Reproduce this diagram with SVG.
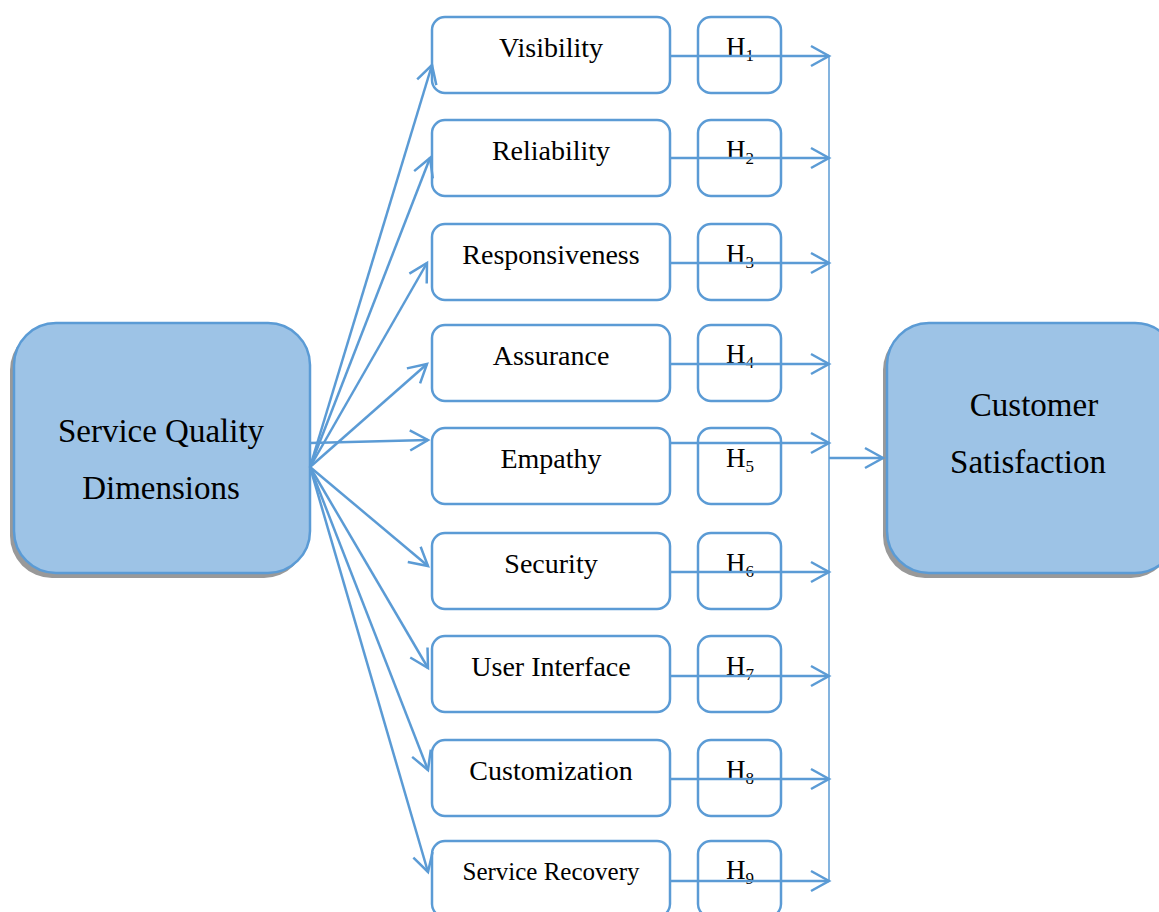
<svg xmlns="http://www.w3.org/2000/svg" width="1159" height="912" viewBox="0 0 1159 912">
<style>
.big{fill:#9dc3e6;stroke:#5b9bd5;stroke-width:2.5}
.sh{fill:#999999}
.box{fill:#ffffff;stroke:#5b9bd5;stroke-width:2.5}
text{font-family:"Liberation Serif","Times New Roman",Times,Tinos,"Nimbus Roman","Noto Serif","DejaVu Serif",FreeSerif,serif;fill:#000}
.t{text-anchor:middle}
.lab{font-size:28px}
.bt{font-size:33px}
.h{font-size:27px}
.sub{font-size:17px}
.c{fill:none;stroke:#5b9bd5;stroke-width:2.5;marker-end:url(#a)}
</style>
<defs>
<marker id="a" markerUnits="userSpaceOnUse" markerWidth="26" markerHeight="26" refX="20" refY="12" orient="auto">
<path d="M2,2 L20,12 L2,22" fill="none" stroke="#5b9bd5" stroke-width="2.5"/>
</marker>
</defs>
<rect x="0" y="0" width="1159" height="912" fill="#ffffff"/>

<g id="service-quality">
<rect class="sh" x="10" y="328" width="296" height="250" rx="42"/>
<rect class="big" x="14" y="323" width="296" height="250" rx="42"/>
<text class="t bt" x="161" y="442">Service Quality</text>
<text class="t bt" x="161" y="499">Dimensions</text>
</g>

<g id="customer-satisfaction">
<rect class="sh" x="883" y="328" width="290" height="250" rx="42"/>
<rect class="big" x="887" y="323" width="290" height="250" rx="42"/>
<text class="t bt" x="1034" y="416">Customer</text>
<text class="t bt" x="1028" y="473">Satisfaction</text>
</g>

<g id="visibility"><rect class="box" x="432" y="17" width="238" height="76" rx="13"/><text class="t lab" x="551" y="57">Visibility</text></g>
<g id="reliability"><rect class="box" x="432" y="120" width="238" height="76" rx="13"/><text class="t lab" x="551" y="160">Reliability</text></g>
<g id="responsiveness"><rect class="box" x="432" y="224" width="238" height="76" rx="13"/><text class="t lab" x="551" y="264">Responsiveness</text></g>
<g id="assurance"><rect class="box" x="432" y="325" width="238" height="76" rx="13"/><text class="t lab" x="551" y="365">Assurance</text></g>
<g id="empathy"><rect class="box" x="432" y="428" width="238" height="76" rx="13"/><text class="t lab" x="551" y="468">Empathy</text></g>
<g id="security"><rect class="box" x="432" y="533" width="238" height="76" rx="13"/><text class="t lab" x="551" y="573">Security</text></g>
<g id="user-interface"><rect class="box" x="432" y="636" width="238" height="76" rx="13"/><text class="t lab" x="551" y="676">User Interface</text></g>
<g id="customization"><rect class="box" x="432" y="740" width="238" height="76" rx="13"/><text class="t lab" x="551" y="780">Customization</text></g>
<g id="service-recovery"><rect class="box" x="432" y="841" width="238" height="76" rx="13"/><text class="t" style="font-size:25px" x="551" y="880">Service Recovery</text></g>

<g id="h1"><rect class="box" x="698" y="17" width="83" height="76" rx="13"/><text class="h" x="726" y="56">H<tspan class="sub" dy="5">1</tspan></text></g>
<g id="h2"><rect class="box" x="698" y="120" width="83" height="76" rx="13"/><text class="h" x="726" y="159">H<tspan class="sub" dy="5">2</tspan></text></g>
<g id="h3"><rect class="box" x="698" y="224" width="83" height="76" rx="13"/><text class="h" x="726" y="263">H<tspan class="sub" dy="5">3</tspan></text></g>
<g id="h4"><rect class="box" x="698" y="325" width="83" height="76" rx="13"/><text class="h" x="726" y="363">H<tspan class="sub" dy="5">4</tspan></text></g>
<g id="h5"><rect class="box" x="698" y="428" width="83" height="76" rx="13"/><text class="h" x="726" y="467">H<tspan class="sub" dy="5">5</tspan></text></g>
<g id="h6"><rect class="box" x="698" y="533" width="83" height="76" rx="13"/><text class="h" x="726" y="572">H<tspan class="sub" dy="5">6</tspan></text></g>
<g id="h7"><rect class="box" x="698" y="636" width="83" height="76" rx="13"/><text class="h" x="726" y="675">H<tspan class="sub" dy="5">7</tspan></text></g>
<g id="h8"><rect class="box" x="698" y="740" width="83" height="76" rx="13"/><text class="h" x="726" y="779">H<tspan class="sub" dy="5">8</tspan></text></g>
<g id="h9"><rect class="box" x="698" y="841" width="83" height="76" rx="13"/><text class="h" x="726" y="879">H<tspan class="sub" dy="5">9</tspan></text></g>

<g id="connectors">
<line class="c" x1="310" y1="467" x2="432" y2="65"/>
<line class="c" x1="310" y1="467" x2="430" y2="158"/>
<line class="c" x1="310" y1="467" x2="427" y2="263"/>
<line class="c" x1="310" y1="467" x2="427" y2="364"/>
<line class="c" x1="310" y1="443" x2="428" y2="440"/>
<line class="c" x1="310" y1="467" x2="428" y2="566"/>
<line class="c" x1="310" y1="467" x2="428" y2="668"/>
<line class="c" x1="310" y1="467" x2="428" y2="770"/>
<line class="c" x1="310" y1="467" x2="428" y2="872"/>
<line class="c" x1="670" y1="56" x2="829" y2="56"/>
<line class="c" x1="670" y1="158" x2="829" y2="158"/>
<line class="c" x1="670" y1="263" x2="829" y2="263"/>
<line class="c" x1="670" y1="364" x2="829" y2="364"/>
<line class="c" x1="670" y1="443" x2="829" y2="443"/>
<line class="c" x1="670" y1="572" x2="829" y2="572"/>
<line class="c" x1="670" y1="676" x2="829" y2="676"/>
<line class="c" x1="670" y1="779" x2="829" y2="779"/>
<line class="c" x1="670" y1="881" x2="829" y2="881"/>
<line x1="829" y1="55" x2="829" y2="881" stroke="#5b9bd5" stroke-width="1.5"/>
<line class="c" x1="829" y1="458" x2="883" y2="458"/>
</g>
</svg>
